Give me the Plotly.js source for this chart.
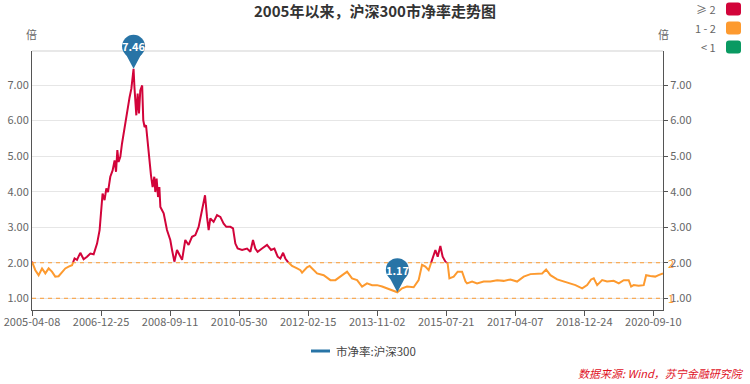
<!DOCTYPE html>
<html>
<head>
<meta charset="utf-8">
<script src="https://cdn.plot.ly/plotly-3.0.1.min.js"></script>
<style>html,body{margin:0;padding:0;background:#fff;}#chart{width:750px;height:384px;}</style>
</head>
<body>
<div id="chart"></div>
<script>
// ---------------- data ----------------
const dates = [
 '2005-04-08','2005-05-08','2005-06-07','2005-07-08','2005-08-07','2005-09-06','2005-10-06','2005-11-05','2005-12-05',
 '2006-01-05','2006-02-04','2006-03-06','2006-04-06','2006-04-29','2006-05-21','2006-06-20','2006-07-20','2006-08-20','2006-09-19','2006-10-19','2006-11-19','2006-12-12','2006-12-28',
 '2007-01-08','2007-01-26','2007-02-11','2007-02-26','2007-03-19','2007-04-09','2007-04-27','2007-05-10','2007-05-22','2007-06-02','2007-06-18','2007-07-03','2007-07-27','2007-08-11','2007-08-27','2007-09-10','2007-09-26','2007-10-16','2007-10-24','2007-11-01','2007-11-10','2007-11-22','2007-12-04','2007-12-16',
 '2008-01-02','2008-01-12','2008-01-24','2008-02-06','2008-02-18','2008-03-07','2008-03-22','2008-04-06','2008-04-21','2008-04-30','2008-05-12','2008-05-25','2008-06-06','2008-06-15','2008-07-15','2008-08-14','2008-09-13','2008-09-29','2008-10-20','2008-11-13','2008-12-07','2008-12-29',
 '2009-01-27','2009-02-26','2009-03-29','2009-04-28','2009-05-28','2009-06-19','2009-07-12','2009-07-25','2009-08-12','2009-08-27','2009-09-11','2009-10-11','2009-11-11','2009-12-11',
 '2010-01-10','2010-02-03','2010-03-12','2010-04-05','2010-04-26','2010-05-17','2010-06-26','2010-08-10','2010-09-09','2010-10-03','2010-10-24','2010-11-14','2010-12-24',
 '2011-02-07','2011-03-16','2011-04-15','2011-05-15','2011-06-08','2011-07-03','2011-07-23','2011-08-13','2011-09-22','2011-11-07','2011-12-07','2011-12-22',
 '2012-01-21','2012-02-05','2012-02-29','2012-04-05','2012-05-06','2012-07-05','2012-09-04','2012-10-19','2012-12-03',
 '2013-02-02','2013-03-19','2013-05-04','2013-06-18','2013-08-02','2013-09-17','2013-11-01','2013-12-17',
 '2014-01-31','2014-03-26','2014-05-04','2014-06-16','2014-07-31','2014-09-29','2014-11-13','2014-12-14',
 '2015-01-13','2015-02-12','2015-03-15','2015-04-14','2015-05-05','2015-05-29','2015-06-19','2015-07-14','2015-08-03','2015-08-19','2015-09-27','2015-11-02','2015-12-12',
 '2016-01-12','2016-01-26','2016-03-12','2016-04-26','2016-06-25','2016-08-25','2016-10-25','2016-12-23',
 '2017-02-22','2017-04-24','2017-06-23','2017-08-23','2017-10-22','2017-12-07',
 '2018-01-12','2018-02-20','2018-04-22','2018-06-21','2018-08-21','2018-10-05','2018-12-05',
 '2019-01-19','2019-02-24','2019-03-20','2019-04-20','2019-06-04','2019-07-19','2019-09-17','2019-11-02','2019-12-17',
 '2020-01-31','2020-02-22','2020-03-16','2020-04-30','2020-06-15','2020-07-07','2020-08-14','2020-09-28','2020-10-28','2020-12-07'
];
const pbValues = [
 2.03,1.79,1.65,1.84,1.70,1.84,1.75,1.61,1.62,
 1.75,1.84,1.89,1.93,2.12,2.08,2.28,2.10,2.17,2.26,2.24,2.54,2.92,3.57,
 3.95,3.76,4.09,3.99,4.42,4.60,4.88,4.56,5.17,4.84,4.98,5.35,5.82,6.20,6.48,6.66,6.90,7.46,6.94,6.66,6.15,6.76,6.20,6.85,
 6.99,6.01,5.82,5.87,5.45,4.88,4.46,4.13,4.42,3.99,4.37,3.85,4.13,3.57,3.39,2.92,2.64,2.36,2.03,2.36,2.22,2.08,
 2.64,2.50,2.73,2.78,3.01,3.39,3.76,3.90,3.29,2.92,3.25,3.15,3.34,3.29,
 3.10,3.01,3.01,2.97,2.54,2.40,2.36,2.40,2.31,2.64,2.40,2.31,2.40,
 2.50,2.36,2.40,2.17,2.12,2.28,2.12,2.03,1.91,1.84,1.79,1.72,
 1.84,1.87,1.91,1.79,1.70,1.65,1.51,1.51,1.61,
 1.75,1.56,1.51,1.33,1.42,1.37,1.37,1.33,
 1.28,1.23,1.17,1.28,1.33,1.31,1.51,1.94,
 1.89,1.79,2.08,2.36,2.17,2.47,2.17,2.03,1.98,1.56,1.61,1.75,1.75,
 1.47,1.42,1.47,1.42,1.47,1.47,1.51,1.49,
 1.53,1.47,1.61,1.68,1.68,1.70,
 1.81,1.65,1.53,1.47,1.42,1.37,1.28,
 1.37,1.53,1.56,1.37,1.51,1.47,1.49,1.42,1.51,
 1.51,1.33,1.37,1.35,1.37,1.65,1.63,1.61,1.65,1.70
];
const tickLabels = ['2005-04-08','2006-12-25','2008-09-11','2010-05-30','2012-02-15','2013-11-02','2015-07-21','2017-04-07','2018-12-24','2020-09-10'];
const markLineValues = [2, 1];
const pieceLabels = ['≥ 2', '1 - 2', '< 1'];
const pieceColors = ['#d2043a', '#fd9a2f', '#0a9a62'];
const seriesName = '市净率:沪深300';
const titleText = '2005年以来，沪深300市净率走势图';
const unitText = '倍';
const sourceText = '数据来源: Wind，苏宁金融研究院';

// ---------------- layout helpers ----------------
const W = 750, H = 384;
const M = {l: 32, r: 87, t: 51, b: 74};
const PW = W - M.l - M.r, PH = H - M.t - M.b;
const px2paperX = px => (px - M.l) / PW;
const px2paperY = py => (H - M.b - py) / PH;

let maxI = 0, minI = 0;
pbValues.forEach((v, i) => { if (v > pbValues[maxI]) maxI = i; if (v < pbValues[minI]) minI = i; });
const yMin = +(pbValues[minI] - 0.5).toFixed(2);
const yMax = +(pbValues[maxI] + 0.5).toFixed(2);
const split = markLineValues[0];
const splitFrac = (split - yMin) / (yMax - yMin);
const t0 = Date.parse(dates[0]), t1 = Date.parse(dates[dates.length - 1]);
const dateFrac = d => (Date.parse(d) - t0) / (t1 - t0);
const valFrac = v => (v - yMin) / (yMax - yMin);

const FONT = 'Noto Sans CJK SC, Noto Sans, sans-serif';
const pinColor = '#2874a6';

const traces = [
  {x: dates, y: pbValues, type: 'scatter', mode: 'lines', xaxis: 'x', yaxis: 'y3',
   line: {color: pieceColors[1], width: 2}, showlegend: false, hoverinfo: 'skip'},
  {x: dates, y: pbValues, type: 'scatter', mode: 'lines', xaxis: 'x', yaxis: 'y2',
   line: {color: pieceColors[0], width: 2}, showlegend: false, hoverinfo: 'skip'},
  {x: [dates[0]], y: [null], type: 'scatter', mode: 'lines', name: seriesName,
   line: {color: pinColor, width: 3}, showlegend: false, yaxis: 'y4'}
];

const shapes = [];
const annotations = [];
// top border line
shapes.push({type: 'line', xref: 'paper', yref: 'paper', x0: 0, x1: 1, y0: 1, y1: 1, line: {color: '#e8e8e8', width: 2}, layer: 'below'});
// mark lines
markLineValues.forEach(v => {
  shapes.push({type: 'line', xref: 'paper', yref: 'y', x0: 0, x1: 1, y0: v, y1: v,
    line: {color: pieceColors[1], width: 1, dash: '4px,4px'}});
  annotations.push({xref: 'paper', yref: 'y', x: 1, y: v, text: String(v), showarrow: false,
    xanchor: 'left', yanchor: 'middle', xshift: 3, font: {family: FONT, size: 11, color: pieceColors[1]}});
});
// pins (max / min)
[maxI, minI].forEach(i => {
  const common = {xref: 'paper', yref: 'paper', xsizemode: 'pixel', ysizemode: 'pixel',
    xanchor: dateFrac(dates[i]), yanchor: valFrac(pbValues[i]), fillcolor: pinColor, line: {width: 0}};
  shapes.push(Object.assign({type: 'circle', x0: -11.5, x1: 11.5, y0: 11, y1: 34}, common));
  shapes.push(Object.assign({type: 'path', path: 'M -8.5 16 L 8.5 16 L 0 0 Z'}, common));
  annotations.push({xref: 'x', yref: 'y', x: dates[i], y: pbValues[i], text: pbValues[i].toFixed(2),
    showarrow: false, yshift: 22.5, font: {family: FONT, size: 11, color: '#fff', weight: 'bold'}});
});
// unit labels
[31, 663].forEach(px => annotations.push({xref: 'paper', yref: 'paper', x: px2paperX(px), y: px2paperY(34),
  xanchor: 'center', yanchor: 'middle', text: unitText, showarrow: false, font: {family: FONT, size: 11, color: '#666'}}));
// visual map pieces (rounded rectangles)
const rr = 'M -4.5 6.5 L 4.5 6.5 Q 7.5 6.5 7.5 3.5 L 7.5 -3.5 Q 7.5 -6.5 4.5 -6.5 L -4.5 -6.5 Q -7.5 -6.5 -7.5 -3.5 L -7.5 3.5 Q -7.5 6.5 -4.5 6.5 Z';
pieceLabels.forEach((lab, k) => {
  const cy = 9 + k * 19;
  shapes.push({type: 'path', xref: 'paper', yref: 'paper', xsizemode: 'pixel', ysizemode: 'pixel',
    xanchor: px2paperX(733.5), yanchor: px2paperY(cy), path: rr, fillcolor: pieceColors[k], line: {width: 0}});
  annotations.push({xref: 'paper', yref: 'paper', x: px2paperX(718), y: px2paperY(cy), xanchor: 'right', yanchor: 'middle',
    text: lab, showarrow: false, font: {family: FONT, size: 11, color: '#666'}});
});
// legend (series name)
shapes.push({type: 'line', xref: 'paper', yref: 'paper', x0: px2paperX(311), x1: px2paperX(330),
  y0: px2paperY(351), y1: px2paperY(351), line: {color: pinColor, width: 3}});
annotations.push({xref: 'paper', yref: 'paper', x: px2paperX(334), y: px2paperY(351), xanchor: 'left', yanchor: 'middle',
  text: seriesName, showarrow: false, font: {family: FONT, size: 11.5, color: '#444'}});
// source
annotations.push({xref: 'paper', yref: 'paper', x: px2paperX(746), y: px2paperY(373), xanchor: 'right', yanchor: 'middle',
  text: '<i>' + sourceText + '</i>', showarrow: false, font: {family: FONT, size: 11, color: '#e0101e'}});

const axisFont = {family: FONT, size: 11, color: '#666'};
const layout = {
  width: W, height: H, margin: M,
  paper_bgcolor: '#fff', plot_bgcolor: 'rgba(0,0,0,0)',
  title: {text: titleText, x: 0.5, xref: 'container', y: 1 - 12 / H, yref: 'container', yanchor: 'middle',
    font: {family: FONT, size: 15, color: '#333', weight: 'bold'}},
  xaxis: {type: 'date', range: [dates[0], dates[dates.length - 1]], tickvals: tickLabels, ticktext: tickLabels,
    tickangle: 0, showgrid: false, showline: true, linecolor: '#555', linewidth: 1, ticks: 'outside', ticklen: 5, tickcolor: '#555',
    ticklabelstandoff: -3, tickfont: axisFont, zeroline: false, fixedrange: true},
  yaxis: {range: [yMin, yMax], tick0: 0, dtick: 1, tickformat: '.2f', showgrid: true, gridcolor: '#e6e6e6',
    showline: true, linecolor: '#555', ticks: '', tickfont: axisFont, zeroline: false, fixedrange: true},
  yaxis2: {domain: [splitFrac, 1], range: [split, yMax], visible: false, anchor: 'x', fixedrange: true},
  yaxis3: {domain: [0, splitFrac], range: [yMin, split], visible: false, anchor: 'x', fixedrange: true},
  yaxis4: {overlaying: 'y', side: 'right', range: [yMin, yMax], tick0: 0, dtick: 1, tickformat: '.2f', showgrid: false,
    showline: true, linecolor: '#555', ticks: 'outside', ticklen: 4, tickcolor: '#555', tickfont: axisFont, zeroline: false, fixedrange: true},
  showlegend: false,
  shapes: shapes, annotations: annotations
};
Plotly.newPlot('chart', traces, layout, {displayModeBar: false, staticPlot: true});
</script>
</body>
</html>
